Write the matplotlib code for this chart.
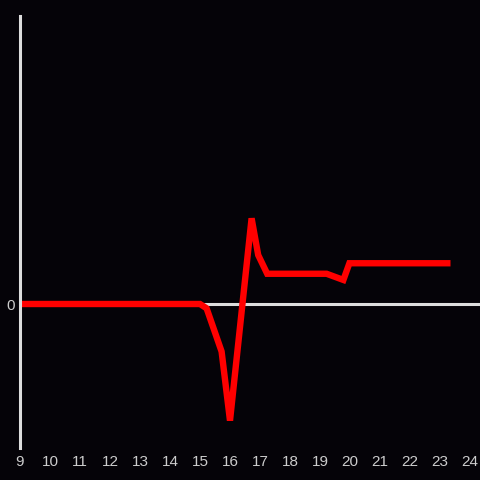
import matplotlib
matplotlib.use("Agg")
import matplotlib.pyplot as plt

# hour of day vs value (red line)
hours = [9, 10, 11, 12, 13, 14, 15, 15.22, 15.72, 16.0, 16.72, 16.94, 17.24,
         19.22, 19.78, 19.98, 23.35]
values = [0, 0, 0, 0, 0, 0, 0, -0.03, -0.33, -0.81, 0.595, 0.34, 0.21,
          0.21, 0.167, 0.283, 0.283]
xticks = list(range(9, 25))
yticks = [0]

bg = "#050308"
axis_col = "#dddddd"

plt.rcParams["font.family"] = ["Liberation Sans", "DejaVu Sans"]

fig = plt.figure(figsize=(4.8, 4.8), dpi=100, facecolor=bg)
ax = fig.add_axes([20 / 480, 32 / 480, 460 / 480, 432 / 480], facecolor=bg)

ax.axhline(0, color=axis_col, lw=2.2, zorder=1)
ax.plot(hours, values, color="#ff0000", lw=4.6, solid_capstyle="butt",
        solid_joinstyle="miter", zorder=2)

ax.set_xlim(9, 24 + 1 / 3)
ax.set_ylim(-1, 2)
ax.set_xticks(xticks)
ax.set_yticks(yticks)

for s in ["top", "right", "bottom"]:
    ax.spines[s].set_visible(False)
ax.spines["left"].set_color(axis_col)
ax.spines["left"].set_linewidth(2.2)

ax.tick_params(length=0, colors="#cccccc", labelsize=11)
ax.tick_params(axis="x", pad=5)
ax.tick_params(axis="y", pad=4)

fig.savefig("out.png", dpi=100, facecolor=bg)
